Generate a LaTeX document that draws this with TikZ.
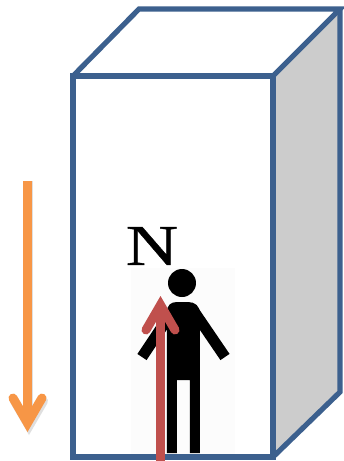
\documentclass[tikz,border=0pt]{standalone}
\usepackage{xcolor}
\usepackage{fontspec}
\setmainfont{Liberation Serif}
\usetikzlibrary{arrows.meta,positioning,calc}
\definecolor{boxblue}{RGB}{60,96,142}
\definecolor{sidegrey}{RGB}{204,204,204}
\definecolor{northred}{RGB}{192,80,77}
\definecolor{downorange}{RGB}{247,150,70}
\newfontfamily\northfont[FakeBold=0.6]{Liberation Serif}
\begin{document}
\begin{tikzpicture}[x=0.02cm,y=-0.02cm,
    edge/.style={draw=boxblue,line width=5.2*0.02cm,line join=miter},
    limb/.style={line width=11*0.02cm,black},
    arr/.style={line width=9*0.02cm,-{Straight Barb[length=25*0.02cm,width=29*0.02cm,line cap=round,line join=miter]}}]
  \useasboundingbox (0,0) rectangle (343,461);
  % box corners
  \coordinate (fl) at (73,76);
  \coordinate (fr) at (273,76);
  \coordinate (bl) at (73,457);
  \coordinate (br) at (273,457);
  \coordinate (tl) at (139,9);
  \coordinate (tr) at (340,9);
  \coordinate (sr) at (340,392);
  \fill[sidegrey] (fr) -- (tr) -- (sr) -- (br) -- cycle;
  \draw[edge] (fl) -- (fr) -- (br) -- (bl) -- cycle;
  \draw[edge] (fl) -- (tl) -- (tr) -- (fr);
  \draw[edge] (tr) -- (sr) -- (br);
  % person
  \fill[black!1] (131,268) rectangle (235,454);
  \fill (182,283) circle (14);
  \fill (167,453) -- (167,312) .. controls (167,305) and (171,302) .. (177,302) -- (188,302) .. controls (195,302) and (200,306) .. (200,314) -- (200,453) -- (190,453) -- (190,380) -- (177,380) -- (177,453) -- cycle;
  \draw[limb] (172,312) -- (142,357);
  \draw[limb] (193,310) -- (225,357);
  \node[font=\northfont\fontsize{33}{33}\selectfont,inner sep=0pt] (north) at (152,246) {\scalebox{1.25}[1]{N}};
  % arrows
  \coordinate (rs) at (160.5,461);
  \coordinate (re) at (160.5,296);
  \coordinate (os) at (27.5,181);
  \coordinate (oe) at (27.5,432);
  \draw[arr,northred] (rs) -- (re);
  \draw[arr,black!25,opacity=.5] ($(os)+(1.5,0)$) -- ($(oe)+(1.5,3)$);
  \draw[arr,downorange] (os) -- (oe);
\end{tikzpicture}
\end{document}
